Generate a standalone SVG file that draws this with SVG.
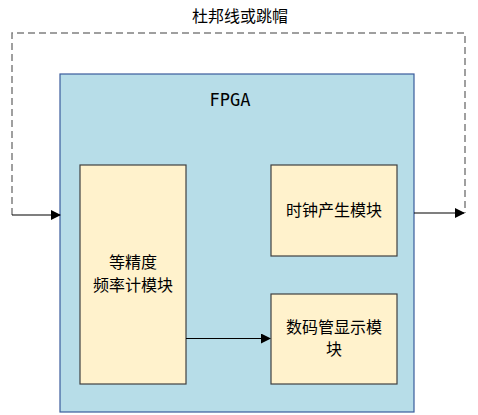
<svg xmlns="http://www.w3.org/2000/svg" width="478" height="415" viewBox="0 0 478 415">
<style>
.t{font-family:"Noto Sans CJK SC","Liberation Sans",sans-serif;font-size:16px;fill:#000;text-anchor:middle}
.m{fill:#fff2cc;stroke:#404040;stroke-width:1.2}
.c{fill:none;stroke:#000;stroke-width:1.2}
.d{fill:none;stroke:#808080;stroke-width:1.5;stroke-dasharray:7,4}
</style>
<defs>
<marker id="a" markerWidth="10" markerHeight="10" refX="9" refY="5" orient="auto" markerUnits="userSpaceOnUse">
<path d="M0,0 L10,5 L0,10 Z" fill="#000"/>
</marker>
</defs>
<rect width="478" height="415" fill="#fff"/>
<g id="fpga">
<rect x="60" y="74" width="354" height="338" fill="#b7dde8" stroke="#3a5c9c" stroke-width="1.2"/>
<text x="230" y="106" style="font-family:'DejaVu Sans Mono','Liberation Mono',monospace;font-size:17px;text-anchor:middle">FPGA</text>
</g>
<g id="freq">
<rect class="m" x="80" y="165" width="106" height="219"/>
<text class="t" x="133" y="268">等精度</text>
<text class="t" x="133" y="291">频率计模块</text>
</g>
<g id="clock">
<rect class="m" x="271" y="165" width="126" height="91"/>
<text class="t" x="334" y="216">时钟产生模块</text>
</g>
<g id="display">
<rect class="m" x="271" y="294" width="126" height="90"/>
<text class="t" x="334" y="333">数码管显示模</text>
<text class="t" x="334" y="355">块</text>
</g>
<g id="connectors">
<path class="d" d="M12,215 V33 H465 V213"/>
<path class="c" d="M12,215 H60" marker-end="url(#a)"/>
<path class="c" d="M414,213 H464" marker-end="url(#a)"/>
<path class="c" d="M186,338.5 H270" marker-end="url(#a)"/>
</g>
<text class="t" x="240" y="22">杜邦线或跳帽</text>
</svg>
